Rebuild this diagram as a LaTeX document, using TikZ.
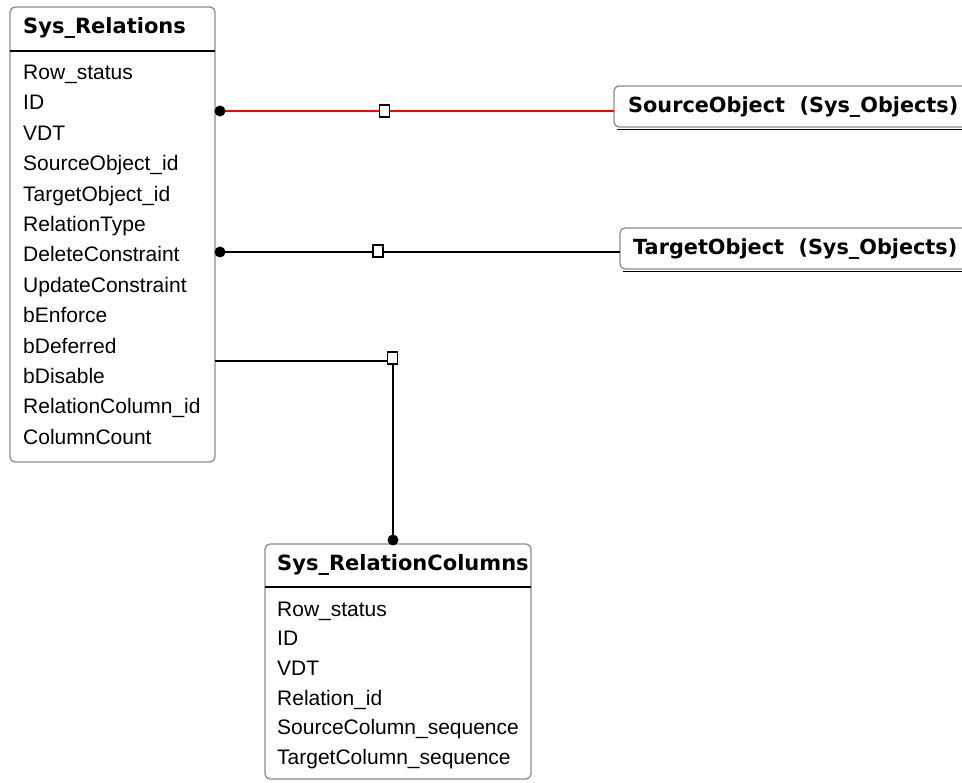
\documentclass[tikz,border=0pt]{standalone}
\usepackage{fontspec}
\setmainfont{Liberation Sans}
\newfontfamily\hdfont{DejaVu Sans}
\begin{document}
\begin{tikzpicture}[x=1pt,y=-1pt]
\tikzset{
 tbl/.style={draw=black!45, line width=1.3pt, rounded corners=5pt, fill=white, anchor=north west, inner sep=0pt, outer sep=0pt},
 hdtxt/.style={anchor=base west, inner sep=0pt, font=\hdfont\bfseries\fontsize{21}{25}\selectfont},
 objtxt/.style={anchor=base west, inner sep=0pt, font=\hdfont\bfseries\fontsize{20.8}{25}\selectfont},
 fld/.style={anchor=base west, inner sep=0pt, font=\fontsize{21}{25}\selectfont},
 sepline/.style={line width=1.6pt, black},
 conn/.style={line width=1.6pt, black},
 relconn/.style={conn, draw=red},
 onedot/.style={circle, fill=black, inner sep=0pt, minimum size=11pt},
 manysq/.style={rectangle, draw=black, fill=white, line width=1.4pt, inner sep=0pt, minimum width=10pt, minimum height=12pt},
}
\useasboundingbox (0,0) rectangle (962,783);
\fill[white] (0,0) rectangle (962,783);
\clip (0,0) rectangle (962,783);

% ---------- Sys_Relations ----------
\node[tbl, minimum width=205pt, minimum height=455pt] (rel) at (10,7) {};
\draw[sepline] (rel.west |- 0,51) -- (rel.east |- 0,51);
\node[hdtxt] (relH) at (23,33.5) {Sys\_Relations};
\foreach \t [count=\i from 0] in {Row\_status,ID,VDT,SourceObject\_id,TargetObject\_id,RelationType,DeleteConstraint,UpdateConstraint,bEnforce,bDeferred,bDisable,RelationColumn\_id,ColumnCount}
  \node[fld] (relF\i) at (23,79.5+\i*30.4) {\t};

% ---------- Sys_RelationColumns ----------
\node[tbl, minimum width=266pt, minimum height=235pt] (rc) at (265,544) {};
\draw[sepline] (rc.west |- 0,587) -- (rc.east |- 0,587);
\node[hdtxt] (rcH) at (277,570.5) {Sys\_RelationColumns};
\foreach \t [count=\i from 0] in {Row\_status,ID,VDT,Relation\_id,SourceColumn\_sequence,TargetColumn\_sequence}
  \node[fld] (rcF\i) at (277,616+\i*29.7) {\t};

% ---------- SourceObject (Sys_Objects) ----------
\node[tbl, minimum width=420pt, minimum height=41pt] (src) at (614,86) {};
\draw[line width=1.8pt, black] ([xshift=3pt,yshift=-2.5pt]src.south west) -- ([yshift=-2.5pt]src.south east);
\node[objtxt] (srcH) at (628,113) {SourceObject\ \ (Sys\_Objects)};

% ---------- TargetObject (Sys_Objects) ----------
\node[tbl, minimum width=420pt, minimum height=41pt] (tgt) at (620,228) {};
\draw[line width=1.8pt, black] ([xshift=3pt,yshift=-2.5pt]tgt.south west) -- ([yshift=-2.5pt]tgt.south east);
\node[objtxt] (tgtH) at (633,254.5) {TargetObject\ \ (Sys\_Objects)};

% ---------- connector anchors ----------
\coordinate (a1) at (rel.east |- 0,111);
\coordinate (b1) at (src.west |- 0,111);
\coordinate (a2) at (rel.east |- 0,252);
\coordinate (b2) at (tgt.west |- 0,252);
\coordinate (a3) at (rel.east |- 0,361);
\coordinate (k3) at (393,361);
\coordinate (b3) at (rc.north -| 393,0);

\draw[relconn] (a1) -- (b1);
\draw[conn] (a2) -- (b2);
\draw[conn] (a3) -- (k3) -- (b3);

\node[onedot] (d1) at (220,111) {};
\node[onedot] (d2) at (220,252) {};
\node[onedot] (d3) at (393,540) {};
\node[manysq] (q1) at (384.5,111) {};
\node[manysq] (q2) at (378,251) {};
\node[manysq] (q3) at (392.5,358) {};
\end{tikzpicture}
\end{document}
